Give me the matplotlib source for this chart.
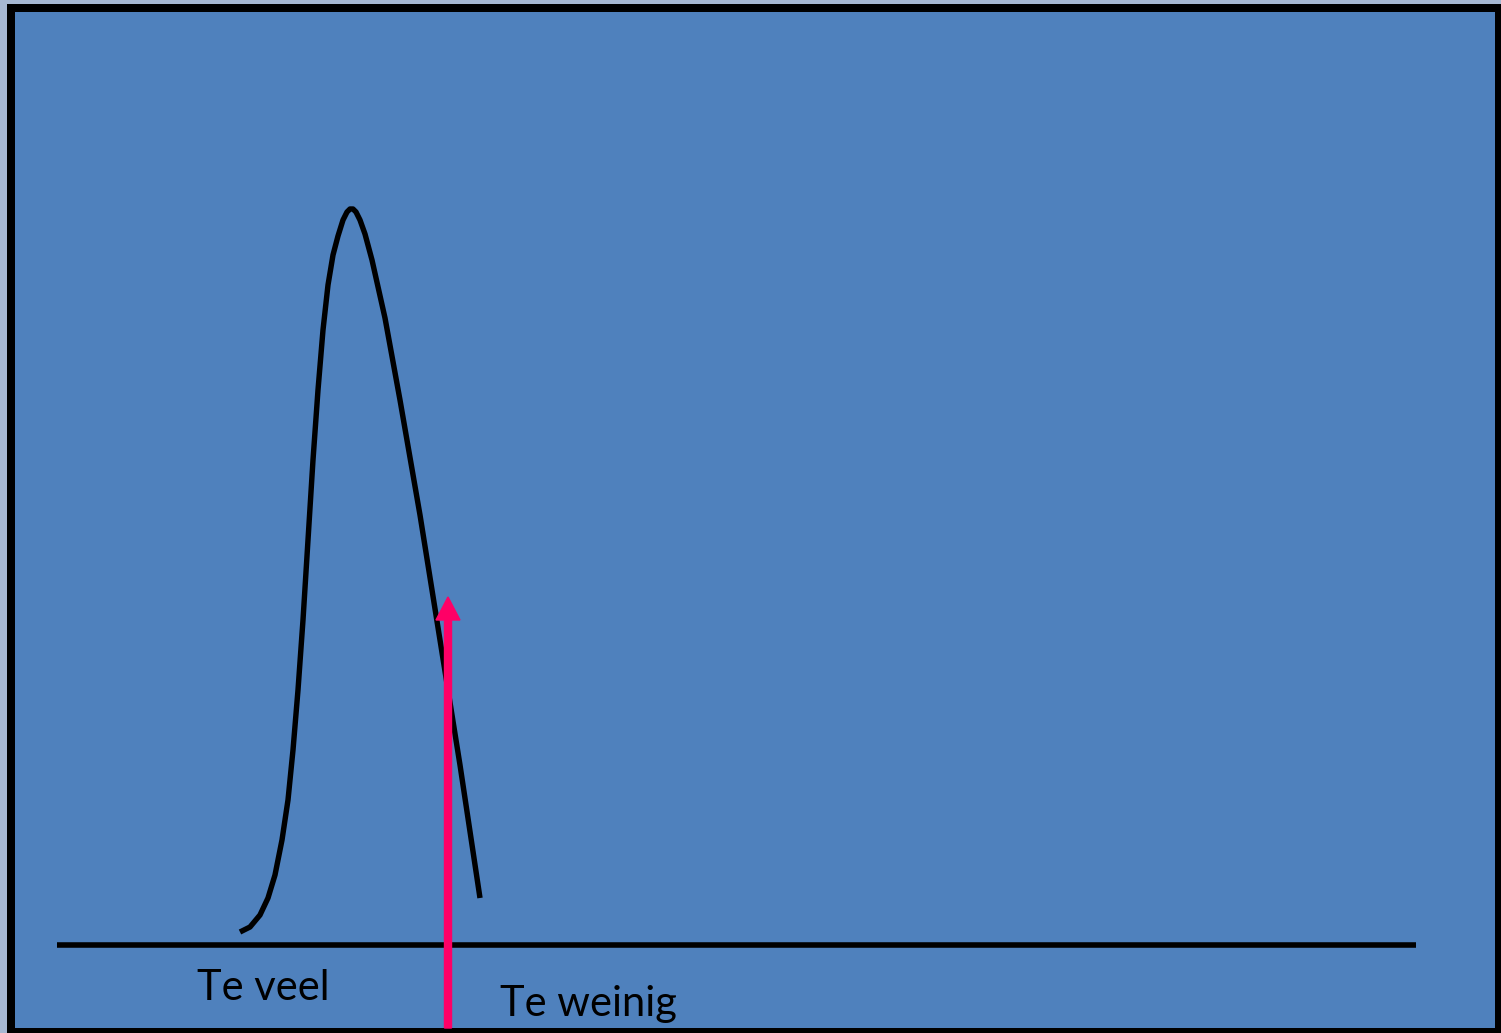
import matplotlib
matplotlib.use("Agg")
import matplotlib.pyplot as plt
from matplotlib.patches import Rectangle, FancyArrow

# Data (pixel-like units, y grows downward)
curve_x = [240, 250, 260, 268, 275, 282, 288, 293, 298, 303, 308, 313, 318, 323, 328,
           333, 338, 343, 347, 350, 353, 356, 360, 365, 372, 385, 400, 420, 440, 460, 480]
curve_y = [932, 927, 915, 898, 875, 840, 800, 750, 690, 620, 540, 460, 390, 330, 285,
           255, 236, 220, 212, 209, 209, 212, 220, 234, 260, 318, 400, 515, 640, 765, 898]
baseline_x = [57, 1416]
baseline_y = 945
marker_x = 448
marker_top = 597
labels = ["Te veel", "Te weinig"]
label_x = [197, 500]
label_y = [1000, 1016]

W, H = 1501, 1033
fig = plt.figure(figsize=(W / 100, H / 100), dpi=100)
fig.patch.set_facecolor("#A7B8D2")
ax = fig.add_axes([0, 0, 1, 1])
ax.set_xlim(0, W)
ax.set_ylim(H, 0)
ax.axis("off")

# frame
ax.add_patch(Rectangle((7, 4), W, H, facecolor="black", edgecolor="none", zorder=0))
ax.add_patch(Rectangle((15, 12), 1480, 1016, facecolor="#4F81BD", edgecolor="none", zorder=1))

ax.plot(curve_x, curve_y, color="black", lw=3.9, solid_capstyle="butt",
        solid_joinstyle="round", zorder=3)
ax.plot(baseline_x, [baseline_y, baseline_y], color="black", lw=4.0, solid_capstyle="butt", zorder=3)

ax.add_patch(FancyArrow(marker_x, 1028, 0, marker_top - 1028, width=7, head_width=24,
                        head_length=23, length_includes_head=True,
                        color="#FF0066", zorder=4))

for t, x, y in zip(labels, label_x, label_y):
    ax.text(x, y, t, fontsize=30, family=["Lato", "DejaVu Sans"], color="black",
            ha="left", va="baseline", zorder=5)

fig.savefig("out.png", dpi=100, facecolor=fig.get_facecolor())
